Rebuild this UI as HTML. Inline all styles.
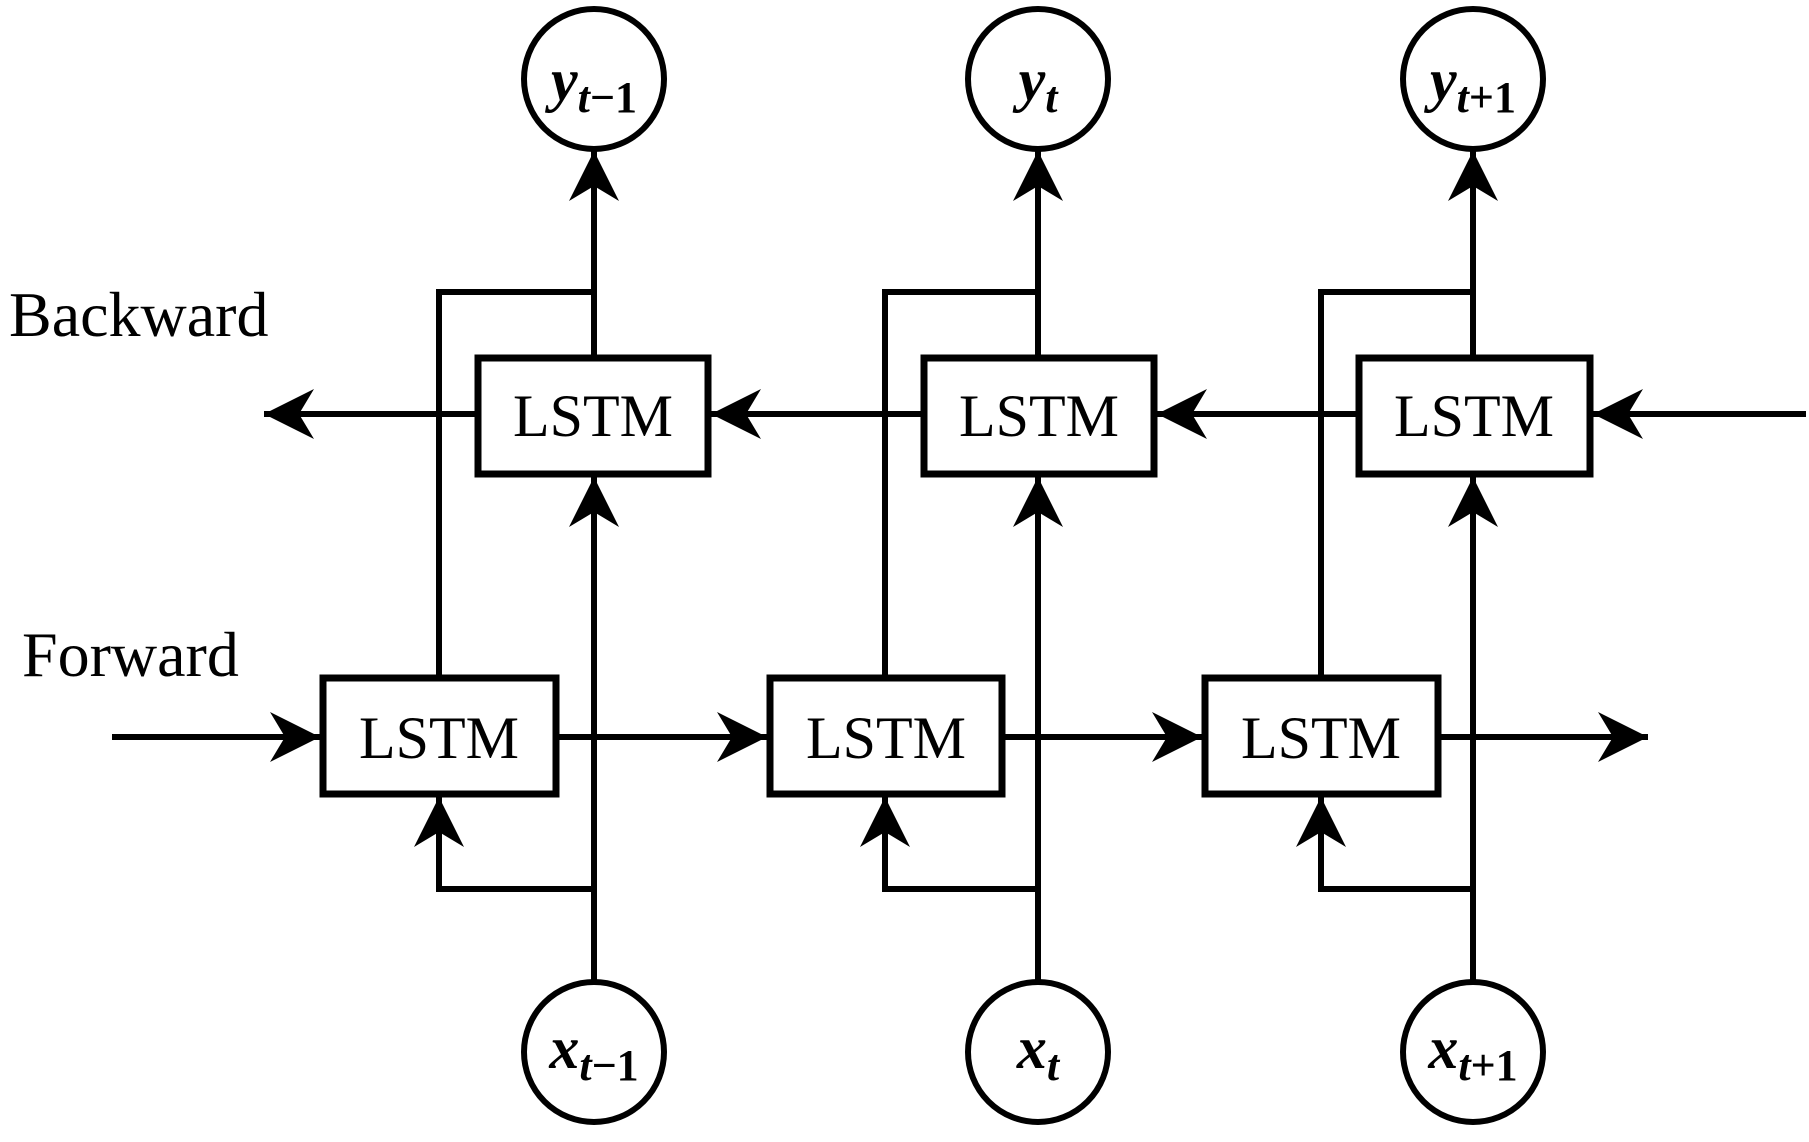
<!DOCTYPE html>
<html><head><style>body{margin:0;background:#fff}</style></head><body>
<svg width="1809" height="1137" viewBox="0 0 1809 1137" xmlns="http://www.w3.org/2000/svg">
<defs>
<marker id="a" markerUnits="userSpaceOnUse" markerWidth="56" markerHeight="56" refX="50" refY="25" orient="auto">
<path d="M50,25 L0,0 L15,25 L0,50 Z" fill="#000"/>
</marker>
</defs>
<g stroke="#000" stroke-width="6" fill="none">
<circle cx="594" cy="79" r="70"/><circle cx="1038" cy="79" r="70"/><circle cx="1473" cy="79" r="70"/>
<circle cx="594" cy="1052" r="70"/><circle cx="1038" cy="1052" r="70"/><circle cx="1473" cy="1052" r="70"/>
<rect x="478" y="358" width="230" height="116" stroke-width="7"/>
<rect x="924" y="358" width="230" height="116" stroke-width="7"/>
<rect x="1359" y="358" width="231" height="116" stroke-width="7"/>
<rect x="323" y="678" width="233" height="116" stroke-width="7"/>
<rect x="770" y="678" width="232" height="116" stroke-width="7"/>
<rect x="1205" y="678" width="233" height="116" stroke-width="7"/>
<line x1="1806" y1="414" x2="1593" y2="414" marker-end="url(#a)"/>
<line x1="1356" y1="414" x2="1157" y2="414" marker-end="url(#a)"/>
<line x1="921" y1="414" x2="711" y2="414" marker-end="url(#a)"/>
<line x1="475" y1="414" x2="264" y2="414" marker-end="url(#a)"/>
<line x1="112" y1="737" x2="320" y2="737" marker-end="url(#a)"/>
<line x1="559" y1="737" x2="767" y2="737" marker-end="url(#a)"/>
<line x1="1005" y1="737" x2="1202" y2="737" marker-end="url(#a)"/>
<line x1="1441" y1="737" x2="1648" y2="737" marker-end="url(#a)"/>
<line x1="594" y1="982" x2="594" y2="477" marker-end="url(#a)"/>
<line x1="594" y1="355" x2="594" y2="151" marker-end="url(#a)"/>
<polyline points="439,675 439,292 594,292"/>
<polyline points="594,889 439,889 439,797" marker-end="url(#a)"/>
<line x1="1038" y1="982" x2="1038" y2="477" marker-end="url(#a)"/>
<line x1="1038" y1="355" x2="1038" y2="151" marker-end="url(#a)"/>
<polyline points="885,675 885,292 1038,292"/>
<polyline points="1038,889 885,889 885,797" marker-end="url(#a)"/>
<line x1="1473" y1="982" x2="1473" y2="477" marker-end="url(#a)"/>
<line x1="1473" y1="355" x2="1473" y2="151" marker-end="url(#a)"/>
<polyline points="1321,675 1321,292 1473,292"/>
<polyline points="1473,889 1321,889 1321,797" marker-end="url(#a)"/>
</g>
<g font-family="Liberation Serif, serif" fill="#000">
<g font-size="60" text-anchor="middle">
<text x="593" y="436">LSTM</text><text x="1039" y="436">LSTM</text><text x="1474" y="436">LSTM</text>
<text x="439" y="758">LSTM</text><text x="886" y="758">LSTM</text><text x="1321" y="758">LSTM</text>
</g>
<text x="9" y="336" font-size="64">Backward</text>
<text x="22" y="676" font-size="64">Forward</text>
<g font-weight="bold" font-size="60" text-anchor="middle">
<text x="594" y="100"><tspan font-style="italic">y</tspan><tspan font-size="44" dy="12"><tspan font-style="italic">t</tspan>−1</tspan></text>
<text x="1038" y="100"><tspan font-style="italic">y</tspan><tspan font-size="44" dy="12" font-style="italic">t</tspan></text>
<text x="1473" y="100"><tspan font-style="italic">y</tspan><tspan font-size="44" dy="12"><tspan font-style="italic">t</tspan>+1</tspan></text>
<text x="594" y="1068"><tspan font-style="italic">x</tspan><tspan font-size="44" dy="12"><tspan font-style="italic">t</tspan>−1</tspan></text>
<text x="1038" y="1068"><tspan font-style="italic">x</tspan><tspan font-size="44" dy="12" font-style="italic">t</tspan></text>
<text x="1473" y="1068"><tspan font-style="italic">x</tspan><tspan font-size="44" dy="12"><tspan font-style="italic">t</tspan>+1</tspan></text>
</g>
</g>
</svg>
</body></html>
